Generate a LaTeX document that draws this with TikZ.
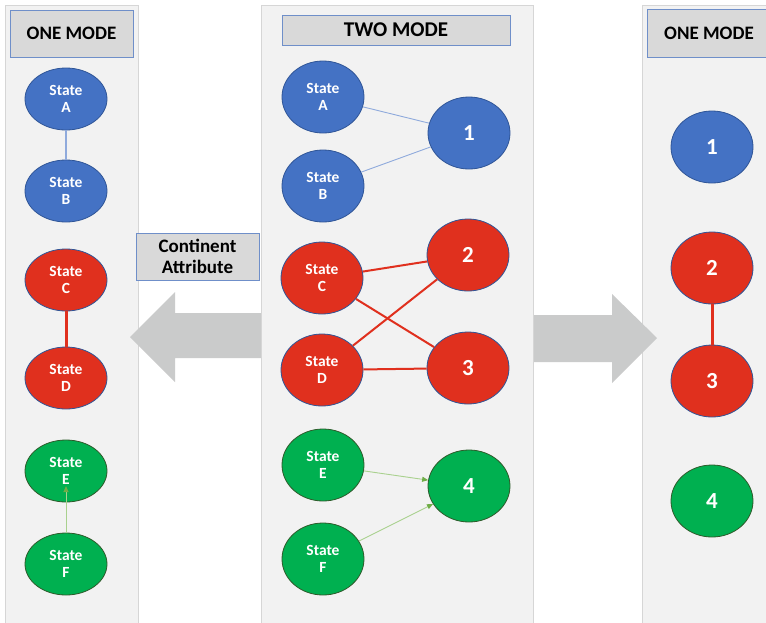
\documentclass[tikz,border=0pt]{standalone}
\usepackage{fontspec}
\setmainfont{Carlito}
\usetikzlibrary{shapes.geometric,arrows.meta}
\definecolor{panelbg}{HTML}{F2F2F2}
\definecolor{panelrule}{HTML}{D6D6D6}
\definecolor{titlefill}{HTML}{D9D9D9}
\definecolor{titlerule}{HTML}{6F8FC9}
\definecolor{nblue}{HTML}{4472C4}
\definecolor{nblueedge}{HTML}{2F5597}
\definecolor{nred}{HTML}{E0301E}
\definecolor{ngreen}{HTML}{00B050}
\definecolor{ngreenedge}{HTML}{2E5A2A}
\definecolor{lblue}{HTML}{8FAADC}
\definecolor{lgreen}{HTML}{A9D18E}
\definecolor{tipgreen}{HTML}{70AD47}
\definecolor{lred}{HTML}{E0301E}
\definecolor{blockgray}{HTML}{CACBCB}
\begin{document}
\begin{tikzpicture}[x=1pt,y=-1pt,
  panel/.style={fill=panelbg,draw=panelrule,line width=0.8pt},
  titlebox/.style={rectangle,fill=titlefill,draw=titlerule,line width=1pt,inner sep=0pt,
    font=\bfseries\fontsize{19}{22}\selectfont,text=black},
  st/.style={ellipse,inner sep=0pt,minimum width=82,minimum height=72,line width=0.8pt,
    align=center,text=white,font=\bfseries\fontsize{15.5}{17.5}\selectfont},
  stsmall/.style={st,minimum height=62},
  num/.style={st,font=\bfseries\fontsize{23}{26}\selectfont},
  bluen/.style={fill=nblue,draw=nblueedge},
  redn/.style={fill=nred,draw=nblueedge},
  greenn/.style={fill=ngreen,draw=ngreenedge},
  bluelink/.style={draw=lblue,line width=0.9pt},
  redlink/.style={draw=lred,line width=2pt},
  redthick/.style={draw=lred,line width=3pt},
  greenlink/.style={draw=lgreen,line width=0.9pt,
    -{Triangle[length=6pt,width=5pt,color=tipgreen]}},
  blockarrow/.style={fill=blockgray,draw=none}
]
\useasboundingbox (0,0) rectangle (766,622);
\fill[white] (0,0) rectangle (766,622);

% side panels
\draw[panel] (5,5) rectangle (138,640);
\draw[panel] (642,5) rectangle (790,640);

% block arrows between the panels
\fill[blockarrow] (130,337) -- (175,292) -- (175,313) -- (264,313) -- (264,358)
  -- (175,358) -- (175,382) -- cycle;
\fill[blockarrow] (530,315) -- (612,315) -- (612,294) -- (657,338) -- (612,383)
  -- (612,362) -- (530,362) -- cycle;

% central panel
\draw[panel] (261,5) rectangle (533,640);

% titles
\node[titlebox,minimum width=123,minimum height=47] (t1) at (71.5,33.5) {ONE MODE};
\node[titlebox,minimum width=228,minimum height=30,
  font=\bfseries\fontsize{21}{24}\selectfont] (t2) at (396,30) {TWO MODE};
\node[titlebox,minimum width=124,minimum height=48] (t3) at (709,33) {ONE MODE};
\node[titlebox,minimum width=123,minimum height=47,align=center,
  font=\bfseries\fontsize{19}{20.5}\selectfont] (ca) at (197.5,256.5) {Continent\\Attribute};

% one mode, states
\node[stsmall,bluen] (lA) at (66,99) {State\\A};
\node[stsmall,bluen] (lB) at (66,191) {State\\B};
\node[stsmall,redn] (lC) at (66,280) {State\\C};
\node[stsmall,redn] (lD) at (66,378) {State\\D};
\node[stsmall,greenn] (lE) at (66,471) {State\\E};
\node[stsmall,greenn] (lF) at (66,564) {State\\F};
\coordinate (lEtip) at (66,486);
\draw[bluelink,line width=1.4pt] (lA) -- (lB);
\draw[redthick] (lC) -- (lD);
\draw[greenlink] (lF.north) -- (lEtip);

% two mode
\node[st,bluen] (mA) at (323,97) {State\\A};
\node[st,bluen] (mB) at (323,186) {State\\B};
\node[st,redn] (mC) at (322,278) {State\\C};
\node[st,redn] (mD) at (322,370) {State\\D};
\node[st,greenn] (mE) at (323,465) {State\\E};
\node[st,greenn] (mF) at (323,559) {State\\F};
\node[num,bluen] (m1) at (469,133) {1};
\node[num,redn] (m2) at (468,255) {2};
\node[num,redn] (m3) at (468,368) {3};
\node[num,greenn] (m4) at (469,486) {4};
\draw[bluelink] (mA) -- (m1);
\draw[bluelink] (mB) -- (m1);
\draw[redlink] (mC) -- (m2);
\draw[redlink] (mC) -- (m3);
\draw[redlink] (mD) -- (m2);
\draw[redlink] (mD) -- (m3);
\draw[greenlink] (mE) -- (m4);
\draw[greenlink] (mF) -- (m4);

% one mode, groups
\node[num,bluen] (r1) at (712,147) {1};
\node[num,redn] (r2) at (712,268) {2};
\node[num,redn] (r3) at (712,381) {3};
\node[num,greenn] (r4) at (712,501) {4};
\draw[redthick] (r2) -- (r3);
\end{tikzpicture}
\end{document}
